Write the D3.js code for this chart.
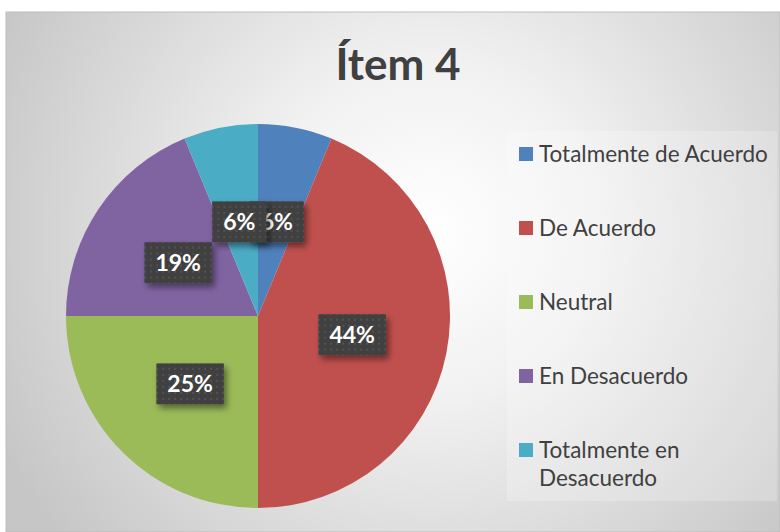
<!DOCTYPE html>
<html>
<head>
<meta charset="utf-8">
<script src="https://cdn.jsdelivr.net/npm/d3@7"></script>
<style>
  html, body { margin: 0; padding: 0; background: #fff; }
  svg { display: block; }
</style>
</head>
<body>
<svg id="chart" width="780" height="532"></svg>
<script>
// ---- data ----
const title = "Ítem 4";
const categories = ["Totalmente de Acuerdo", "De Acuerdo", "Neutral", "En Desacuerdo", "Totalmente en Desacuerdo"];
const counts = [1, 7, 4, 3, 1];
const colors = ["#4f81bd", "#c0504d", "#9bbb59", "#8064a2", "#4bacc6"];

const W = 780, H = 532;
const svg = d3.select("#chart");
const defs = svg.append("defs");

// background radial gradient
const grad = defs.append("radialGradient").attr("id", "bg")
  .attr("gradientUnits", "userSpaceOnUse")
  .attr("cx", 430).attr("cy", 230).attr("r", 480);
grad.append("stop").attr("offset", "0%").attr("stop-color", "#ffffff");
grad.append("stop").attr("offset", "35%").attr("stop-color", "#f1f1f1");
grad.append("stop").attr("offset", "100%").attr("stop-color", "#c6c6c6");

// dotted pattern for label boxes
const pat = defs.append("pattern").attr("id", "dots")
  .attr("patternUnits", "userSpaceOnUse").attr("width", 6).attr("height", 6);
pat.append("rect").attr("width", 6).attr("height", 6).attr("fill", "#404040");
pat.append("rect").attr("x", 2).attr("y", 2).attr("width", 2).attr("height", 2).attr("fill", "#525252");

const shadow = defs.append("filter").attr("id", "shadow")
  .attr("x", "-30%").attr("y", "-30%").attr("width", "170%").attr("height", "180%");
shadow.append("feDropShadow").attr("dx", 3).attr("dy", 4).attr("stdDeviation", 3)
  .attr("flood-color", "#000").attr("flood-opacity", 0.45);

// chart area
svg.append("rect").attr("x", 6).attr("y", 12).attr("width", W - 6).attr("height", H - 12)
  .attr("fill", "url(#bg)").attr("stroke", "#bdbdbd").attr("stroke-width", 1);

// title
svg.append("text").attr("x", 398).attr("y", 80)
  .attr("text-anchor", "middle")
  .attr("font-family", "Lato, 'Open Sans', sans-serif")
  .attr("font-weight", "bold").attr("font-size", 44)
  .attr("fill", "#404040").text(title);

// pie
const cx = 258, cy = 316, R = 192;
const total = d3.sum(counts);
const pie = d3.pie().sort(null).value(d => d)(counts);
const arc = d3.arc().innerRadius(0).outerRadius(R);
const color = d3.scaleOrdinal().domain(categories).range(colors);

const g = svg.append("g").attr("transform", `translate(${cx},${cy})`);
g.selectAll("path.slice").data(pie).join("path")
  .attr("class", "slice")
  .attr("d", arc)
  .attr("fill", (d, i) => color(categories[i]));

// labels
const fmt = d3.format(".0%");
const labels = g.selectAll("g.lbl").data(pie).join("g")
  .attr("class", "lbl")
  .attr("transform", d => `translate(${arc.centroid(d)})`);
labels.each(function(d) {
  const sel = d3.select(this);
  const rect = sel.append("rect").attr("fill", "url(#dots)").attr("filter", "url(#shadow)");
  const t = sel.append("text")
    .attr("text-anchor", "middle").attr("dy", "0.36em")
    .attr("font-family", "Lato, 'Open Sans', sans-serif")
    .attr("font-weight", "bold").attr("font-size", 23)
    .attr("fill", "#ffffff")
    .text(fmt(d.data / total));
  const w = t.node().getComputedTextLength() + 22;
  rect.attr("x", -w / 2).attr("y", -20.5).attr("width", w).attr("height", 41);
});

// legend
svg.append("rect").attr("x", 507).attr("y", 131).attr("width", 270).attr("height", 370)
  .attr("fill", "#ffffff").attr("fill-opacity", 0.22);

const ly = d3.scalePoint().domain(categories).range([154, 450]);
const leg = svg.append("g");
const items = leg.selectAll("g").data(categories).join("g")
  .attr("transform", d => `translate(519,${ly(d)})`);
items.append("rect").attr("x", 0).attr("y", -7).attr("width", 14).attr("height", 14)
  .attr("fill", d => color(d));
items.each(function(d) {
  const t = d3.select(this).append("text")
    .attr("x", 20).attr("dy", "0.35em")
    .attr("font-family", "Lato, 'Open Sans', sans-serif")
    .attr("font-size", 22.5).attr("fill", "#404040").text(d);
  const maxW = 245;
  if (t.node().getComputedTextLength() > maxW) {
    const words = d.split(" ");
    t.text(null);
    let line = [];
    let ts = t.append("tspan").attr("x", 20);
    for (const wd of words) {
      line.push(wd);
      ts.text(line.join(" "));
      if (ts.node().getComputedTextLength() > maxW && line.length > 1) {
        line.pop();
        ts.text(line.join(" "));
        line = [wd];
        ts = t.append("tspan").attr("x", 20).attr("dy", 28).text(wd);
      }
    }
  }
});
</script>
</body>
</html>
